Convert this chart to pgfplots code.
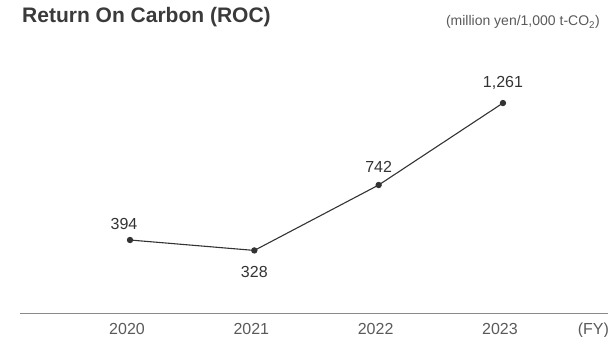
\documentclass[border=0pt]{standalone}
\usepackage{pgfplots}
\pgfplotsset{compat=1.18}
\usepackage{fontspec}
\setmainfont{Liberation Sans}
\definecolor{linec}{HTML}{333333}
\definecolor{axisc}{HTML}{8A8A8A}
\definecolor{tickc}{HTML}{5A5A5A}
\definecolor{titlec}{HTML}{3A3A3A}
\begin{document}
\begin{tikzpicture}[x=1pt,y=1pt]
\useasboundingbox (-20,-24) rectangle (588,313);
\begin{axis}[
  at={(0,0)}, anchor=south west,
  scale only axis, width=588pt, height=273pt,
  xmin=-0.885, xmax=3.845,
  ymin=-68, ymax=1660,
  axis y line=none,
  axis x line*=bottom,
  x axis line style={draw=axisc, line width=0.9pt, -},
  xtick={0,1,2,3}, xticklabels={2020,2021,2022,2023},
  major tick length=0pt,
  xticklabel style={font=\fontsize{16}{18}\selectfont, text=tickc, anchor=base, yshift=-21.5pt, xshift=-3pt},
  clip=false,
]
\addplot[linec, line width=1.1pt, mark=*, mark size=2.6pt, mark options={fill=linec, draw=linec}]
  coordinates {(0,394) (1,328) (2,742) (3,1261)};
\node[anchor=base west, inner sep=0pt, font=\fontsize{16}{18}\selectfont, text=tickc] at (axis cs:3.60,-68) [yshift=-21.5pt] {(FY)};
\node[font=\fontsize{16}{18}\selectfont, text=linec] at (axis cs:0,394) [xshift=-6pt, yshift=16pt] {394};
\node[font=\fontsize{16}{18}\selectfont, text=linec] at (axis cs:1,328) [yshift=-22pt] {328};
\node[font=\fontsize{16}{18}\selectfont, text=linec] at (axis cs:2,742) [yshift=18pt] {742};
\node[font=\fontsize{16}{18}\selectfont, text=linec] at (axis cs:3,1261) [yshift=20pt] {1,261};
\end{axis}
\node[anchor=base west, inner sep=0pt, font=\bfseries\fontsize{21}{24}\selectfont, text=titlec] at (2,290) {Return On Carbon (ROC)};
\node[anchor=base east, inner sep=0pt, font=\fontsize{14}{16}\selectfont, text=tickc] at (580,287) {(million yen/1,000 t-CO\textsubscript{2})};
\end{tikzpicture}
\end{document}
